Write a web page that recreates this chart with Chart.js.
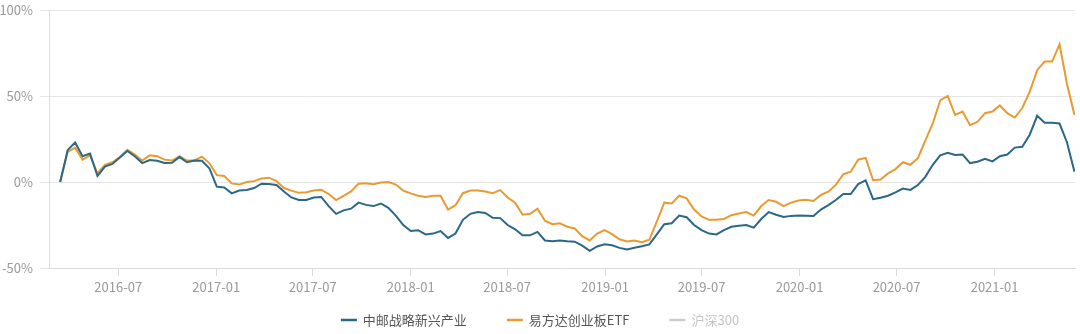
<!DOCTYPE html>
<html>
<head>
<meta charset="utf-8">
<script src="https://cdn.jsdelivr.net/npm/chart.js@4/dist/chart.umd.min.js"></script>
<style>
  html, body { margin: 0; padding: 0; background: #ffffff; }
  #wrap { width: 1080px; height: 334px; }
</style>
</head>
<body>
<div id="wrap"><canvas id="c" width="1080" height="334"></canvas></div>
<script>
// ---------- data ----------
const startDate = '2016-03-14';   // first observation
const stepDays = 14;              // spacing between observations (days)

const seriesNames = ['中邮战略新兴产业', '易方达创业板ETF', '沪深300'];

// cumulative return, %
const zhongyou = [
  0, 18.5, 23, 15, 16.5, 3.5, 9, 10.5, 14.3, 18,
  15, 11, 12.8, 12.3, 11, 11.2, 14.5, 11.5, 12.5, 12.3,
  8, -2.7, -3.2, -6.6, -5, -4.7, -3.5, -1, -1.2, -1.7,
  -5.5, -9, -10.5, -10.5, -9, -8.7, -14, -18.5, -16.5, -15.5,
  -12, -13.3, -14, -12.5, -15, -19.5, -25, -28.5, -28, -30.5,
  -30, -28.5, -32.5, -30, -22, -18.5, -17.5, -18, -20.8, -21,
  -25, -27.5, -31, -31, -29, -34, -34.5, -34, -34.5, -34.7,
  -37, -40, -37.5, -36.2, -36.8, -38.3, -39.2, -38.2, -37.4, -36.3,
  -30.5, -24.5, -24, -19.5, -20.5, -25, -28, -30, -30.5, -28,
  -26, -25.5, -25, -26.5, -21.5, -17.5, -19, -20.3, -19.7, -19.5,
  -19.6, -19.8, -16, -13.4, -10.5, -7, -7, -1.2, 1, -10,
  -9.2, -8, -6, -3.8, -4.6, -1.8, 3, 10, 15.5, 17,
  15.7, 16, 11, 11.8, 13.5, 12, 15, 16, 20, 20.5,
  27.5, 38.5, 34.5, 34.5, 34, 23, 6
];

const efund = [
  0, 17.5, 20, 13, 15.5, 5, 10, 11.5, 14.5, 18.7,
  16, 12.5, 15.5, 15, 13, 12.5, 15, 12.5, 12.5, 14.7,
  11, 4, 3.5, -0.8, -1.5, 0, 0.5, 2, 2.5, 0.5,
  -3.5, -5, -6.3, -6, -5, -4.5, -7, -10.5, -8, -5.5,
  -1, -0.8, -1.3, -0.3, 0, -1.5, -5, -6.6, -8, -8.7,
  -8, -8, -16, -13.5, -6.5, -5, -5, -5.5, -6.5, -4.7,
  -9, -12, -19, -18.5, -15.5, -22.5, -24.5, -24, -26, -27,
  -31.5, -34, -30, -28, -30.3, -33.3, -34.6, -34, -35, -33.6,
  -23, -12, -12.5, -8, -9.5, -16, -20, -22, -22, -21.5,
  -19.3, -18.3, -17.5, -19.5, -14, -10.5, -11.5, -14, -12, -10.8,
  -10.3, -11, -7.5, -5.6, -1.7, 4.5, 6, 13, 14, 1,
  1.5, 5, 7.5, 11.5, 10, 13.8, 24, 34, 47.5, 50,
  39, 41, 33, 35, 40, 41, 44.5, 40, 37.5, 43,
  52.5, 65, 70, 70, 80, 57, 39
];

const hs300 = [];   // series toggled off in the reference (not drawn)

const tickLabels = ['2016-07', '2017-01', '2017-07', '2018-01', '2018-07',
                    '2019-01', '2019-07', '2020-01', '2020-07', '2021-01'];

// ---------- helpers ----------
const DAY = 86400000;
function dayOffset(dateStr) {
  return Math.round((Date.parse(dateStr + 'T00:00:00Z') - Date.parse(startDate + 'T00:00:00Z')) / DAY);
}
function toPoints(arr) {
  return arr.map((v, i) => ({ x: i * stepDays, y: v }));
}
const tickValues = tickLabels.map(l => dayOffset(l + '-01'));

const FONT = '"Noto Sans CJK SC", "Noto Sans", sans-serif';
Chart.defaults.font.family = FONT;

const colors = ['#2a6788', '#e99a30', '#cccccc'];
const legendText = ['#555555', '#555555', '#c4c4c4'];

const bottomLegend = {
  id: 'bottomLegend',
  afterDraw(chart) {
    const ctx = chart.ctx;
    ctx.save();
    ctx.font = '13px ' + FONT;
    ctx.textBaseline = 'middle';
    ctx.textAlign = 'left';
    const sym = 16, gap = 6, itemGap = 40;
    const ds = chart.data.datasets;
    const widths = ds.map(d => sym + gap + ctx.measureText(d.label).width);
    const total = widths.reduce((a, b) => a + b, 0) + itemGap * (ds.length - 1);
    let x = chart.width / 2 - total / 2;
    const y = chart.height - 14;
    ds.forEach((d, i) => {
      ctx.strokeStyle = d.borderColor;
      ctx.lineWidth = 2.5;
      ctx.beginPath();
      ctx.moveTo(x, y);
      ctx.lineTo(x + sym, y);
      ctx.stroke();
      ctx.fillStyle = legendText[i];
      ctx.fillText(d.label, x + sym + gap, y);
      x += widths[i] + itemGap;
    });
    ctx.restore();
  }
};

new Chart(document.getElementById('c'), {
  type: 'line',
  data: {
    datasets: [
      { label: seriesNames[0], data: toPoints(zhongyou), borderColor: colors[0], backgroundColor: colors[0],
        borderWidth: 2, pointRadius: 0, tension: 0 },
      { label: seriesNames[1], data: toPoints(efund), borderColor: colors[1], backgroundColor: colors[1],
        borderWidth: 2, pointRadius: 0, tension: 0 },
      { label: seriesNames[2], data: toPoints(hs300), borderColor: colors[2], backgroundColor: colors[2],
        borderWidth: 2, pointRadius: 0, tension: 0 }
    ]
  },
  options: {
    responsive: false,
    animation: false,
    devicePixelRatio: 1,
    layout: { padding: { top: 10, right: 5, bottom: 36, left: 0 } },
    plugins: {
      legend: { display: false },
      tooltip: { enabled: false }
    },
    scales: {
      x: {
        type: 'linear',
        bounds: 'data',
        min: -21,
        max: 1905,
        afterBuildTicks: (scale) => { scale.ticks = tickValues.map(v => ({ value: v })); },
        afterFit: (scale) => { scale.height = 30; },
        ticks: {
          autoSkip: false,
          maxRotation: 0,
          padding: 3,
          color: '#9a9a9a',
          font: { size: 13 },
          callback: (value) => {
            const k = tickValues.indexOf(value);
            return k >= 0 ? tickLabels[k] : '';
          }
        },
        grid: { drawOnChartArea: false, drawTicks: true, tickLength: 8, color: '#dcdcdc' },
        border: { display: true, color: '#dcdcdc' }
      },
      y: {
        min: -50,
        max: 100,
        afterFit: (scale) => { scale.width = 49; scale.paddingTop = 0; scale.paddingBottom = 0; },
        ticks: {
          stepSize: 50,
          padding: 7,
          color: '#9a9a9a',
          font: { size: 13 },
          callback: (v) => v + '%'
        },
        grid: { color: '#e6e6e6', tickLength: 9, drawTicks: true },
        border: { display: true, color: '#dcdcdc' }
      }
    }
  },
  plugins: [bottomLegend]
});
</script>
</body>
</html>
